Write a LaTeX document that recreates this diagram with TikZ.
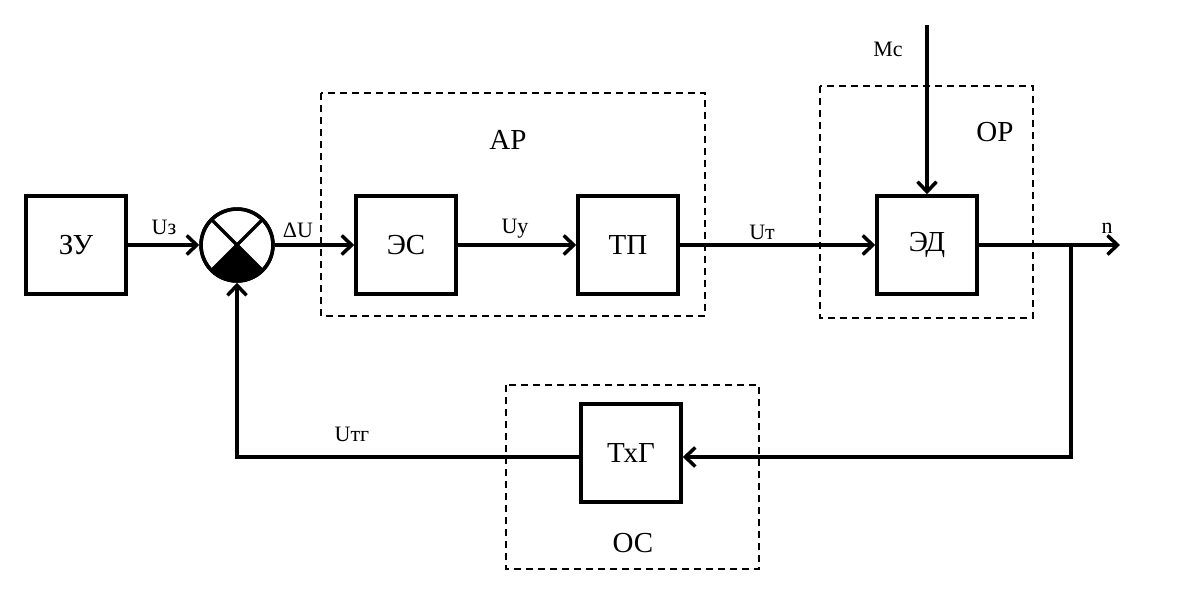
\documentclass[tikz,border=0pt]{standalone}
\usepackage{fontspec}
\setmainfont{Liberation Serif}
\usetikzlibrary{arrows.meta}
\begin{document}
\begin{tikzpicture}[x=1pt,y=-1pt,
  blk/.style={draw,line width=3.5pt,minimum width=100pt,minimum height=98pt,inner sep=0pt,font=\fontsize{29}{33}\selectfont},
  lbl/.style={inner sep=0pt,font=\fontsize{22}{26}\selectfont},
  big/.style={inner sep=0pt,font=\fontsize{29}{33}\selectfont},
  conn/.style={line width=3.5pt,line join=miter,-{Straight Barb[length=10pt,width=19pt]}},
  frame/.style={draw,line width=1.1pt,dash pattern=on 7pt off 5pt}]
\useasboundingbox (0,0) rectangle (1183,600);
% dashed frames
\draw[frame] (321,93) rectangle (705,316);
\draw[frame] (820,86) rectangle (1033,318);
\draw[frame] (506,385) rectangle (759,569);
% blocks
\node[blk] (zu) at (76,245) {ЗУ};
\node[blk] (es) at (406,245) {ЭС};
\node[blk] (tp) at (628,245) {ТП};
\node[blk] (ed) at (927,245) {ЭД};
\node[blk] (txg) at (631,453) {ТхГ};
% summing junction
\node[draw,circle,line width=3.5pt,minimum size=72pt,inner sep=0pt] (sum) at (237,245) {};
\fill (237,245) -- ++(45:36) arc[start angle=45,end angle=135,radius=36] -- cycle;
\draw[line width=3.5pt] (237,245) ++(135:36) -- ++(-45:72);
\draw[line width=3.5pt] (237,245) ++(45:36) -- ++(225:72);
\draw[line width=3.5pt] (sum) circle[radius=36];
% coordinates
\coordinate (mtop) at (927,25);
\coordinate (br) at (1071,245);
\coordinate (out) at (1120,245);
\coordinate (fb) at (1071,457);
% connectors
\draw[conn] (zu.east) -- (sum.west);
\draw[conn] (sum.east) -- (es.west);
\draw[conn] (es.east) -- (tp.west);
\draw[conn] (tp.east) -- (ed.west);
\draw[conn] (mtop) -- (ed.north);
\draw[conn] (ed.east) -- (out);
\draw[conn] (br) -- (fb) -- (txg.east |- fb);
\draw[conn] (txg.west |- fb) -| (sum.south);
% labels
\node[lbl] (lz) at (164,227) {Uз};
\node[lbl] (ldu) at (298,230) {ΔU};
\node[lbl] (ly) at (515,229) {Uу};
\node[lbl] (lt) at (762,232) {Uт};
\node[lbl] (lm) at (888,49) {Mс};
\node[lbl] (ln) at (1107,228) {n};
\node[lbl] (ltg) at (352,434) {Uтг};
\node[big] (lar) at (508,140) {АР};
\node[big] (lor) at (995,132) {ОР};
\node[big] (los) at (633,543) {ОС};
\end{tikzpicture}
\end{document}
